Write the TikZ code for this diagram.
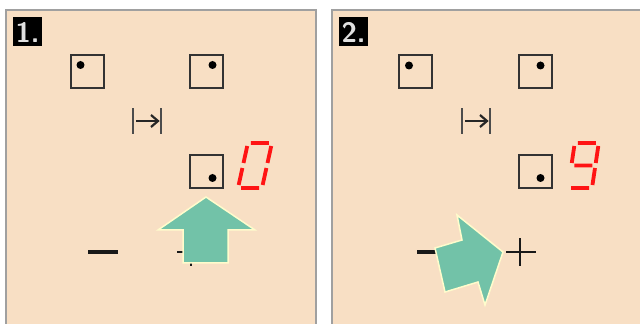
\documentclass[tikz,border=0pt]{standalone}
\usepackage{tikz}
\usetikzlibrary{positioning, calc}

\definecolor{panelbg}{RGB}{248,223,196}
\definecolor{framegray}{RGB}{160,160,160}
\definecolor{keyteal}{RGB}{114,194,168}
\definecolor{segred}{RGB}{255,20,20}

\tikzset{
  panel/.style={fill=panelbg, draw=framegray, line width=2pt},
  tag/.style={fill=black, text=white!88!black, minimum size=29pt, inner sep=0pt,
    font=\sffamily\bfseries\fontsize{28}{28}\selectfont},
  key/.style={draw=black!80, line width=1.5pt, minimum size=33pt, inner sep=0pt},
  keydot/.style={fill=black, circle, minimum size=8pt, inner sep=0pt},
  seg/.style={draw=segred, line width=3.8pt},
  sign/.style={line width=3.2pt, black!90},
  hand/.style={fill=keyteal, draw=white!80!yellow, line width=1.5pt, line join=miter},
  tabkey/.pic={
    \draw[line width=1.3pt, black!70] (-14,-13) -- (-14,13) (14,-13) -- (14,13);
    \draw[line width=2.2pt, black!85] (-11,0) -- (10,0);
    \draw[line width=2.2pt, black!85] (4,6) -- (11,0) -- (4,-6);
  }
}

% seven segment pieces, w=24 h=45
\newcommand{\sga}{(3,45) -- (21,45)}
\newcommand{\sgb}{(24,42) -- (24,25)}
\newcommand{\sgc}{(24,20) -- (24,3)}
\newcommand{\sgd}{(3,0) -- (21,0)}
\newcommand{\sge}{(0,3) -- (0,20)}
\newcommand{\sgf}{(0,25) -- (0,42)}
\newcommand{\sgg}{(3,22.5) -- (21,22.5)}

\begin{document}
\begin{tikzpicture}[x=1pt, y=1pt, node distance=119pt, on grid]
    \useasboundingbox (0,0) rectangle (640,324);
    \clip (0,0) rectangle (640,324);

    % panel 1
    \draw[panel] (6,-10) rectangle (316,314);
    \node[tag] (t1) at (27.5,292) {1.};
    \node[key] (p1a) at (87.5,252.5) {};
    \node[key] (p1b) [right=of p1a] {};
    \node[key] (p1c) [below=100pt of p1b] {};
    \node[keydot] (d1a) at ($(p1a)+(-7,6.5)$) {};
    \node[keydot] (d1b) at ($(p1b)+(6,6.5)$) {};
    \node[keydot] (d1c) at ($(p1c)+(6,-6.5)$) {};
    \pic at (147,203) {tabkey};
    \begin{scope}[shift={(238,136)}, xslant=0.22]
        \draw[seg] \sga \sgb \sgc \sgd \sge \sgf;
    \end{scope}
    \draw[sign] (88,72) -- (118,72);
    \draw[sign, line width=2.4pt] (177,72) -- (205,72) (191,58) -- (191,86);
    \draw[hand] (206,127) -- (255,94) -- (228,94) -- (228,61) -- (183,61) -- (183,94) -- (158,94) -- cycle;

    % panel 2
    \draw[panel] (332,-10) rectangle (648,314);
    \node[tag] (t2) at (353.5,292) {2.};
    \node[key] (p2a) at (415.5,252.5) {};
    \node[key] (p2b) [right=120pt of p2a] {};
    \node[key] (p2c) [below=100pt of p2b] {};
    \node[keydot] (d2a) at ($(p2a)+(-6.5,6)$) {};
    \node[keydot] (d2b) at ($(p2b)+(5,6)$) {};
    \node[keydot] (d2c) at ($(p2c)+(5,-6.5)$) {};
    \pic at (476,203) {tabkey};
    \begin{scope}[shift={(568,136)}, xslant=0.15]
        \draw[seg] \sga \sgb \sgc \sgd \sgf \sgg;
    \end{scope}
    \draw[sign] (417,72) -- (447,72);
    \draw[sign, line width=2.4pt] (506,72) -- (536,72) (520,58) -- (520,86);
    \draw[hand] (503,72) -- (457,109) -- (462,84) -- (435,76) -- (445,32) -- (478,42) -- (485,19) -- cycle;
\end{tikzpicture}
\end{document}
